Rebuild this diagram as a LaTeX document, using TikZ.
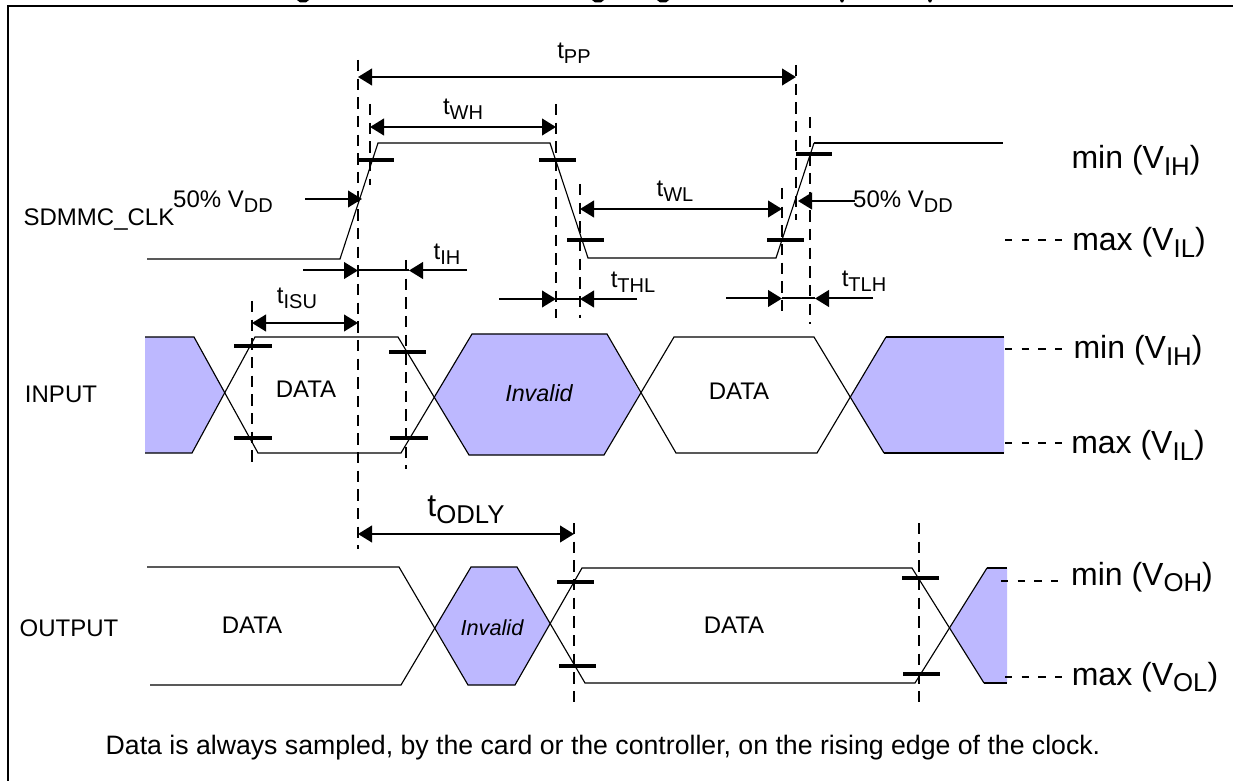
\documentclass[tikz,border=0pt]{standalone}
\usepackage{fontspec}
\setmainfont{Liberation Sans}
\usetikzlibrary{arrows.meta}
\definecolor{inv}{HTML}{BDB8FF}
\newcommand\Sm[1]{\raisebox{-3.9pt}{\fontsize{15pt}{16pt}\selectfont #1}}
\newcommand\Lg[1]{\raisebox{-5.2pt}{\fontsize{19.3pt}{20pt}\selectfont #1}}
\tikzset{
  lab/.style={inner sep=0pt,font=\fontsize{18pt}{20pt}\selectfont},
  biglab/.style={inner sep=0pt,font=\fontsize{24pt}{26pt}\selectfont},
  guide/.style={line width=1.5pt,dash pattern=on 8.5pt off 5.5pt},
  lvl/.style={line width=1.1pt,dash pattern=on 5.5pt off 7pt},
  dimline/.style={line width=1.5pt,{Triangle[length=10.5pt,width=12.5pt]}-{Triangle[length=10.5pt,width=12.5pt]}},
  arrowin/.style={line width=1.5pt,-{Triangle[length=10.5pt,width=12.5pt]}},
  link/.style={line width=1.5pt},
  tick/.style={line width=2.6pt},
  wave/.style={line width=0.85pt},
  wavebold/.style={line width=1.6pt},
  shade/.style={fill=inv,draw=none}
}
\begin{document}
\begin{tikzpicture}[x=0.75pt,y=-0.75pt]
\useasboundingbox (0,0) rectangle (1233,781);
\fill[white] (0,0) rectangle (1233,781);
% clipped title remnants and frame
\foreach \bx/\bw in {303/6,598/6,663/6,842/2,930/2}{\fill (\bx-\bw,0) -- (\bx+\bw,0) -- (\bx+\bw*0.5,2.4) -- (\bx-\bw*0.5,2.4) -- cycle;}
\draw[line width=1.6pt] (8,781) -- (8,6) -- (1233,6);

% shaded regions
\fill[shade] (145,337) -- (194,337) -- (225,392) -- (192,453) -- (145,453) -- cycle;
\fill[shade] (472,334) -- (607,334) -- (640,393) -- (604,455) -- (469,455) -- (434,397) -- cycle;
\fill[shade] (850,397) -- (886,337) -- (1004,337) -- (1004,453) -- (884,453) -- cycle;
\fill[shade] (435,627) -- (471,567) -- (517,567) -- (550,624) -- (515,685) -- (468,685) -- cycle;
\fill[shade] (950,628) -- (987,568) -- (1007,568) -- (1007,683) -- (984,683) -- cycle;

% clock
\draw[wave] (147,259) -- (340,259) -- (378,143) -- (550,143) -- (588,258) -- (776,258) -- (814,143);
\draw[wavebold] (814,143) -- (1003,143);

% input
\draw[wave] (145,337) -- (194,337) -- (258,453) -- (401,453) -- (472,334) -- (607,334) -- (676,453) -- (817,453) -- (886,337);
\draw[wave] (145,453) -- (192,453) -- (255,337) -- (398,337) -- (469,455) -- (604,455) -- (674,337) -- (814,337) -- (884,453);
\draw[wavebold] (886,337) -- (1004,337);
\draw[wavebold] (884,453) -- (1004,453);

% output
\draw[wave] (147,567) -- (399,567) -- (468,685) -- (515,685) -- (582,568) -- (912,568) -- (984,683);
\draw[wave] (150,685) -- (401,685) -- (471,567) -- (517,567) -- (585,683) -- (915,683) -- (987,568);
\draw[wavebold] (987,568) -- (1007,568);
\draw[wavebold] (984,683) -- (1007,683);

% guides
\foreach \gx/\ga/\gb in {358/60/549,370/104/185,556/104/318,580/184/318,796/65/220,782/188/318,810/117/324,252/301/467,406/260/469,574/523/707,919/523/707}
  {\draw[guide] (\gx,\ga) -- (\gx,\gb);}

% level dashes
\foreach \lya/\lxa/\lxb in {240/1005/1068,349/1005/1068,443/1005/1066,581/1001/1064,677/1005/1068}
  {\draw[lvl] (\lxa,\lya) -- (\lxb,\lya);}

% threshold ticks
\foreach \ty/\txa/\txb in {160/358/394,160/539/576,240/567/604,240/767/804,154/796/832,346/234/272,438/234/272,352/389/426,438/390/428,582/557/594,666/559/596,578/902/939,674/903/940}
  {\draw[tick] (\txa,\ty) -- (\txb,\ty);}

% dimension end points
\coordinate (ppL) at (358,77);   \coordinate (ppR) at (796,77);
\coordinate (whL) at (370,127);  \coordinate (whR) at (556,127);
\coordinate (wlL) at (580,209);  \coordinate (wlR) at (782,209);
\coordinate (isuL) at (252,323); \coordinate (isuR) at (358,323);
\coordinate (odL) at (358,534);  \coordinate (odR) at (574,534);
\draw[dimline] (ppL) -- (ppR);
\draw[dimline] (whL) -- (whR);
\draw[dimline] (wlL) -- (wlR);
\draw[dimline] (isuL) -- (isuR);
\draw[dimline] (odL) -- (odR);

% single arrows
\coordinate (a50s) at (305,199); \coordinate (a50e) at (362,199);
\coordinate (b50s) at (855,201); \coordinate (b50e) at (798,201);
\coordinate (ihAs) at (303,270.5); \coordinate (ihAe) at (358,270.5);
\coordinate (ihBs) at (467,270.5); \coordinate (ihBe) at (409,270.5);
\coordinate (thlAs) at (499,299); \coordinate (thlAe) at (556,299);
\coordinate (thlBs) at (637,299); \coordinate (thlBe) at (580,299);
\coordinate (tlhAs) at (726,298.5); \coordinate (tlhAe) at (782,298.5);
\coordinate (tlhBs) at (873,298.5); \coordinate (tlhBe) at (815,298.5);
\draw[arrowin] (a50s) -- (a50e);
\draw[arrowin] (b50s) -- (b50e);
\draw[arrowin] (ihAs) -- (ihAe);
\draw[arrowin] (ihBs) -- (ihBe);
\draw[arrowin] (thlAs) -- (thlAe);
\draw[arrowin] (thlBs) -- (thlBe);
\draw[arrowin] (tlhAs) -- (tlhAe);
\draw[arrowin] (tlhBs) -- (tlhBe);
\draw[link] (ihAe) -- (ihBe);
\draw[link] (thlAe) -- (thlBe);
\draw[link] (tlhAe) -- (tlhBe);

% labels
\node[lab] (tpp) at (574,53) {t\Sm{PP}};
\node[lab] (twh) at (463,109) {t\Sm{WH}};
\node[lab] (twl) at (675,191) {t\Sm{WL}};
\node[lab] (tih) at (447,254) {t\Sm{IH}};
\node[lab] (tthl) at (633,282) {t\Sm{THL}};
\node[lab] (ttlh) at (864,281) {t\Sm{TLH}};
\node[lab] (tisu) at (297,298) {t\Sm{ISU}};
\node[biglab] (todly) at (466,510) {t\Lg{ODLY}};
\node[lab] (p50a) at (223,202) {50\% V\Sm{DD}};
\node[lab] (p50b) at (903,202) {50\% V\Sm{DD}};
\node[lab] (clk) at (99,220) {SDMMC\_CLK};
\node[lab] (inp) at (61,394) {INPUT};
\node[lab] (outp) at (69,628) {OUTPUT};
\node[lab] (d1) at (306,389) {DATA};
\node[lab] (d2) at (739,391) {DATA};
\node[lab] (d3) at (252,625) {DATA};
\node[lab] (d4) at (734,625) {DATA};
\node[lab,font=\fontsize{17.5pt}{19pt}\selectfont\itshape] (i1) at (539,393) {Invalid};
\node[lab,font=\fontsize{16.3pt}{18pt}\selectfont\itshape] (i2) at (492,628) {Invalid};
\node[biglab] (m1) at (1136,160) {min (V\Lg{IH})};
\node[biglab] (m2) at (1139,242) {max (V\Lg{IL})};
\node[biglab] (m3) at (1138,350) {min (V\Lg{IH})};
\node[biglab] (m4) at (1138,445) {max (V\Lg{IL})};
\node[biglab] (m5) at (1142,577) {min (V\Lg{OH})};
\node[biglab] (m6) at (1145,677) {max (V\Lg{OL})};
\node[lab,font=\fontsize{20pt}{22pt}\selectfont] (note) at (603,748) {Data is always sampled, by the card or the controller, on the rising edge of the clock.};
\end{tikzpicture}
\end{document}
